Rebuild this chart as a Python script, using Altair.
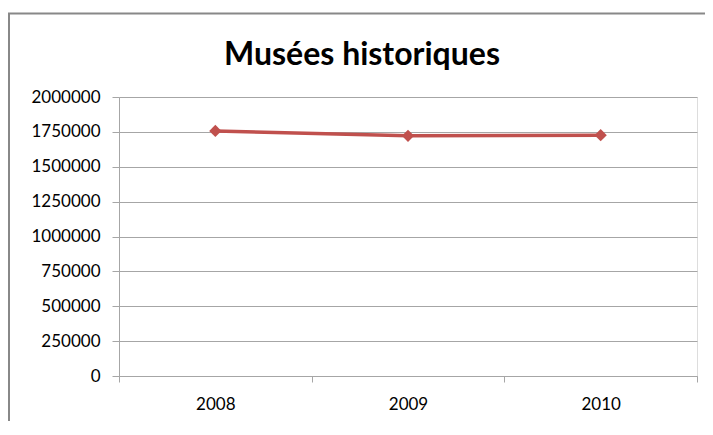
import altair as alt
import pandas as pd

years = ["2008", "2009", "2010"]
visitors = [1757000, 1722000, 1726000]
title_text = "Musées historiques"

df = pd.DataFrame({"year": years, "visitors": visitors})

FONT = "Lato"

x_enc = alt.X("year:N", title=None, sort=years,
              scale=alt.Scale(paddingInner=0, paddingOuter=0),
              axis=alt.Axis(labelAngle=0, tickBand="extent", domainColor="#A6A6A6",
                            tickColor="#A6A6A6", tickSize=6, labelPadding=14,
                            labelFontSize=17, labelFont=FONT, labelColor="#000000",
                            grid=False))
y_enc = alt.Y("visitors:Q", title=None,
              scale=alt.Scale(domain=[0, 2000000], nice=False),
              axis=alt.Axis(values=[0, 250000, 500000, 750000, 1000000, 1250000, 1500000, 1750000, 2000000],
                            format="d", domainColor="#A6A6A6", tickColor="#A6A6A6",
                            tickSize=7, labelPadding=12, labelFontSize=17, labelFont=FONT,
                            labelColor="#000000", gridColor="#A6A6A6", grid=True))

one = pd.DataFrame({"k": [0]})
frame_top = alt.Chart(one).mark_rule(stroke="#888888", strokeWidth=2, clip=False).encode(
    x=alt.value(-111), x2=alt.value(600), y=alt.value(-83.5))
frame_left = alt.Chart(one).mark_rule(stroke="#888888", strokeWidth=2, clip=False).encode(
    x=alt.value(-110), y=alt.value(-84), y2=alt.value(400))

title = alt.Chart(pd.DataFrame({"t": [title_text]})).mark_text(
    font=FONT, fontSize=32, fontWeight="bold", color="#000000",
    align="center", baseline="alphabetic", clip=False
).encode(text="t:N", x=alt.value(243), y=alt.value(-32))

line = alt.Chart(df).mark_line(color="#C0504D", strokeWidth=3.5).encode(x=x_enc, y=y_enc)
pts = alt.Chart(df).mark_point(shape="diamond", filled=True, color="#C0504D", size=150, opacity=1).encode(
    x=x_enc, y=y_enc)

chart = alt.layer(frame_top, frame_left, title, line, pts).properties(
    width=578, height=279,
    autosize=alt.AutoSizeParams(type="none"),
    padding={"left": 111, "top": 89, "right": 8, "bottom": 45},
).configure_view(stroke=None).configure(background="white")

chart.save("out.html", embed_options={"renderer": "svg", "actions": False})
